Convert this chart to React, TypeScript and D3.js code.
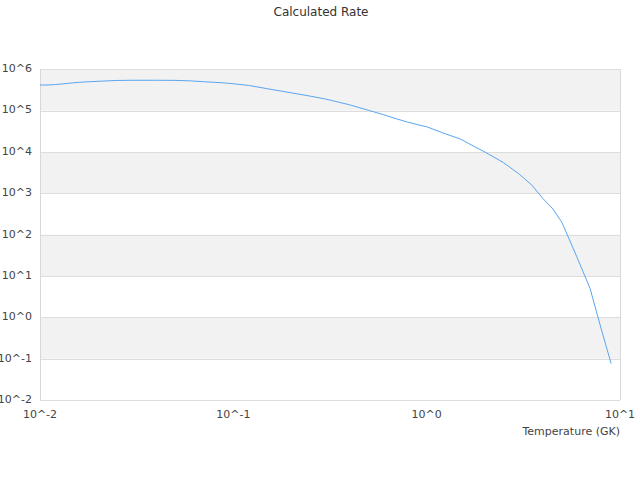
import { useEffect, useRef } from 'react';
import * as d3 from 'd3';

// Temperature grid (GK) and calculated rate
const temperatures = [
  0.01, 0.011, 0.012, 0.013, 0.014, 0.015, 0.016, 0.018, 0.02, 0.025, 0.03, 0.04, 0.05,
  0.06, 0.07, 0.08, 0.09, 0.1, 0.12, 0.15, 0.2, 0.25, 0.3, 0.4, 0.5, 0.6, 0.7, 0.8, 0.9,
  1.0, 1.25, 1.5, 1.75, 2.0, 2.5, 3.0, 3.5, 4.0, 4.5, 5.0, 6.0, 7.0, 8.0, 9.0,
];
const rates = [
  4.17e5, 4.17e5, 4.27e5, 4.42e5, 4.57e5, 4.73e5, 4.84e5, 5.01e5, 5.13e5, 5.37e5, 5.43e5,
  5.43e5, 5.4e5, 5.25e5, 5.01e5, 4.84e5, 4.68e5, 4.47e5, 4.07e5, 3.39e5, 2.69e5, 2.24e5,
  1.91e5, 1.38e5, 1.02e5, 7.94e4, 6.31e4, 5.25e4, 4.57e4, 4.07e4, 2.75e4, 2.04e4, 1.38e4,
  1.0e4, 5.5e3, 2.95e3, 1.58e3, 7.4e2, 4.17e2, 2.0e2, 2.8e1, 5.0, 5.2e-1, 7.6e-2,
];
const yTickExps = [-2, -1, 0, 1, 2, 3, 4, 5, 6];
const xTickExps = [-2, -1, 0, 1];

const W = 640;
const H = 480;
const margin = { top: 69.3, right: 20, bottom: 80, left: 40 };

export default function App() {
  const svgRef = useRef<SVGSVGElement>(null);

  useEffect(() => {
    if (!svgRef.current) return;
    const svg = d3.select(svgRef.current);
    svg.selectAll('*').remove();

    const x = d3.scaleLog().domain([1e-2, 1e1]).range([margin.left, W - margin.right]);
    const y = d3.scaleLog().domain([1e-2, 1e6]).range([H - margin.bottom, margin.top]);
    const font = 'DejaVu Sans, sans-serif';

    // alternating bands
    const bands = yTickExps.filter(e => e >= 0 && e % 2 === 0).map(e => e - 1);
    svg.append('g')
      .selectAll('rect')
      .data(bands)
      .enter()
      .append('rect')
      .attr('x', margin.left)
      .attr('width', W - margin.right - margin.left)
      .attr('y', e => y(Math.pow(10, e + 1)))
      .attr('height', e => y(Math.pow(10, e)) - y(Math.pow(10, e + 1)))
      .attr('fill', '#f2f2f2');

    // horizontal grid lines
    svg.append('g')
      .selectAll('line')
      .data(yTickExps)
      .enter()
      .append('line')
      .attr('x1', margin.left)
      .attr('x2', W - margin.right)
      .attr('y1', e => Math.round(y(Math.pow(10, e))) + 0.5)
      .attr('y2', e => Math.round(y(Math.pow(10, e))) + 0.5)
      .attr('stroke', '#dddddd')
      .attr('stroke-width', 1);

    // left and right borders
    [margin.left, W - margin.right].forEach(px => {
      svg.append('line')
        .attr('x1', px + 0.5)
        .attr('x2', px + 0.5)
        .attr('y1', y(1e6))
        .attr('y2', y(1e-2))
        .attr('stroke', '#d8d8d8');
    });

    // y tick labels
    svg.append('g')
      .selectAll('text')
      .data(yTickExps)
      .enter()
      .append('text')
      .attr('x', 32)
      .attr('y', e => y(Math.pow(10, e)) - 1)
      .attr('dy', '0.35em')
      .attr('text-anchor', 'end')
      .attr('font-family', font)
      .attr('font-size', 11)
      .attr('fill', '#444')
      .text(e => `10^${e}`);

    // x tick labels
    svg.append('g')
      .selectAll('text')
      .data(xTickExps)
      .enter()
      .append('text')
      .attr('x', e => x(Math.pow(10, e)))
      .attr('y', 414)
      .attr('dy', '0.35em')
      .attr('text-anchor', 'middle')
      .attr('font-family', font)
      .attr('font-size', 11)
      .attr('fill', '#444')
      .text(e => `10^${e}`);

    // axis title
    svg.append('text')
      .attr('x', W - margin.right)
      .attr('y', 431)
      .attr('dy', '0.35em')
      .attr('text-anchor', 'end')
      .attr('font-family', font)
      .attr('font-size', 11)
      .attr('fill', '#444')
      .text('Temperature (GK)');

    // title
    svg.append('text')
      .attr('x', 321)
      .attr('y', 12)
      .attr('dy', '0.35em')
      .attr('text-anchor', 'middle')
      .attr('font-family', font)
      .attr('font-size', 12)
      .attr('fill', '#333')
      .text('Calculated Rate');

    const line = d3.line<number>()
      .x((_, i) => x(temperatures[i]))
      .y(d => y(d));

    svg.append('path')
      .datum(rates)
      .attr('d', line)
      .attr('fill', 'none')
      .attr('stroke', '#5aa5f0')
      .attr('stroke-width', 1);
  }, []);

  return (
    <svg
      ref={svgRef}
      width={W}
      height={H}
      style={{ position: 'absolute', left: 0, top: 0, background: '#fff' }}
    />
  );
}
